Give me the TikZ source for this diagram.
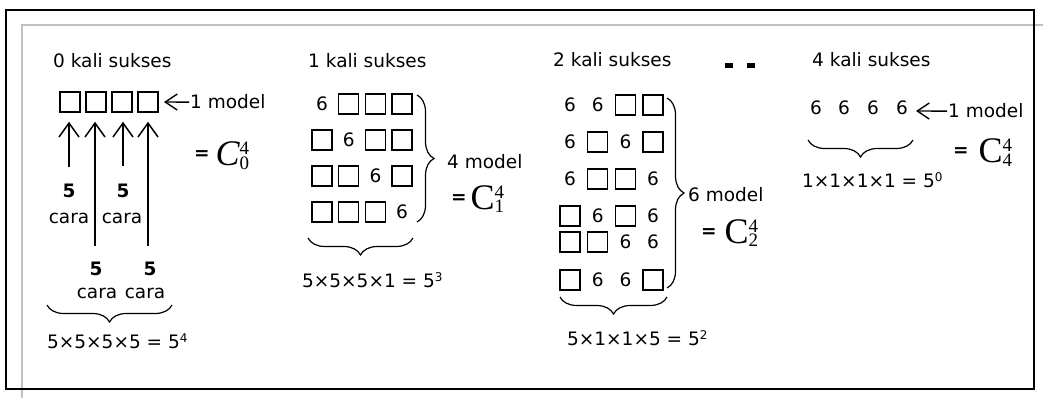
\documentclass[tikz,border=0pt]{standalone}
\usepackage{fontspec}
\setmainfont{DejaVu Sans}
\newfontfamily\tms{Liberation Serif}
\usetikzlibrary{arrows.meta,decorations.pathreplacing}

\definecolor{framegray}{RGB}{192,192,192}

% C^n_k written as a Times capital with stacked indices
\newcommand\combC[3]{{\tms\fontsize{36}{36}\selectfont #1C\upshape\fontsize{19}{19}\selectfont\rlap{\raisebox{11pt}{#3}}\raisebox{-3.5pt}{#2}}}
\newcommand\eqsign{{\bfseries\fontsize{18.5}{18.5}\selectfont\raisebox{6pt}{=}}}
\newcommand\supdig[1]{\raisebox{6pt}{\fontsize{12}{12}\selectfont #1}}

\tikzset{
  lbl/.style={inner sep=0pt, font=\fontsize{18.5}{20}\selectfont},
  box/.style={draw, line width=1.5pt, minimum size=20pt, inner sep=0pt, node contents={}},
  six/.style={lbl, node contents={6}},
  uparr/.style={line width=1.5pt, -{Straight Barb[length=14pt,width=20pt]}},
  larr/.style={line width=1.4pt, -{Straight Barb[length=12pt,width=16pt]}},
  curly/.style={decorate, decoration={brace, amplitude=17pt, aspect=0.5}, line width=1.2pt},
  framebar/.style={line width=2pt, draw=framegray},
}

\begin{document}
\begin{tikzpicture}[x=1pt,y=-1pt]
\useasboundingbox (0,0) rectangle (1043,398);

% frame
\draw[framebar] (22,398) -- (22,25) -- (1043,25);
\draw[line width=2pt] (6,10) rectangle (1034,389);

% ---------- 0 successes ----------
\node[lbl, anchor=base west] (t0) at (53,68) {0 kali sukses};
\foreach \c in {0,...,3} \node (z-\c) at ({70+26*\c},102) [box];
\node[lbl, anchor=base west] (m0) at (190,109) {1 model};
\coordinate (m0tip) at (164,102);
\draw[larr] ([xshift=-1pt]m0.west) -- (m0tip);

\coordinate (u0) at (69,167);
\coordinate (u1) at (95,246);
\coordinate (u2) at (123,166);
\coordinate (u3) at (148,246);
\foreach \c in {0,...,3} \draw[uparr, shorten >=9pt] (u\c) -- (u\c |- z-\c.south);

\node[lbl, anchor=base] (n0) at (69,197) {\textbf{5}};
\node[lbl, anchor=base] (k0) at (69,223) {cara};
\node[lbl, anchor=base] (n2) at (123,197) {\textbf{5}};
\node[lbl, anchor=base] (k2) at (122,223) {cara};
\node[lbl, anchor=base] (n1) at (96,275) {\textbf{5}};
\node[lbl, anchor=base] (k1) at (97,298) {cara};
\node[lbl, anchor=base] (n3) at (150,275) {\textbf{5}};
\node[lbl, anchor=base] (k3) at (145,298) {cara};

\coordinate (b0a) at (172,305);
\coordinate (b0b) at (47,305);
\draw[curly] (b0a) -- (b0b);
\node[lbl, anchor=base west] (f0) at (47,348) {5×5×5×5 = 5\supdig{4}};
\node[lbl, anchor=base west] (e0) at (194,166) {\eqsign\hspace{6pt}\combC{\itshape}{0}{4}};

% ---------- 1 success ----------
\node[lbl, anchor=base west] (t1) at (308,68) {1 kali sukses};
\foreach \kind [count=\i from 0] in {six,box,box,box, box,six,box,box, box,box,six,box, box,box,box,six}{
  \pgfmathtruncatemacro\r{floor(\i/4)}
  \pgfmathtruncatemacro\c{mod(\i,4)}
  \node (pa-\r-\c) at ({322+26.7*\c},{104+36*\r}) [\kind];
}
\coordinate (r1a) at (417,95);
\coordinate (r1b) at (417,222);
\draw[curly] (r1a) -- (r1b);
\node[lbl, anchor=base west] (m1) at (447,169) {4 model};
\node[lbl, anchor=base west] (e1) at (451,209) {\eqsign\hspace{4pt}\combC{}{1}{4}};
\coordinate (b1a) at (413,238);
\coordinate (b1b) at (308,238);
\draw[curly] (b1a) -- (b1b);
\node[lbl, anchor=base west] (f1) at (302,287) {5×5×5×1 = 5\supdig{3}};

% ---------- 2 successes ----------
\node[lbl, anchor=base west] (t2) at (553,67) {2 kali sukses};
\node[fill, minimum width=8pt, minimum height=5pt, inner sep=0pt] (d1) at (729,65.5) {};
\node[fill, minimum width=8pt, minimum height=5pt, inner sep=0pt] (d2) at (751,65.5) {};
\foreach \kind [count=\i from 0] in {six,six,box,box, six,box,six,box, six,box,box,six,
                                     box,six,box,six, box,box,six,six, box,six,six,box}{
  \pgfmathtruncatemacro\r{floor(\i/4)}
  \pgfmathtruncatemacro\c{mod(\i,4)}
  \pgfmathsetmacro\yy{{105,142,179,216,242,280}[\r]}
  \node (pb-\r-\c) at ({570+27.7*\c},\yy) [\kind];
}
\coordinate (r2a) at (667,98);
\coordinate (r2b) at (667,288);
\draw[curly] (r2a) -- (r2b);
\node[lbl, anchor=base west] (m2) at (688,201) {6 model};
\node[lbl, anchor=base west] (e2) at (701,243) {\eqsign\hspace{8pt}\combC{}{2}{4}};
\coordinate (b2a) at (667,297);
\coordinate (b2b) at (560,297);
\draw[curly] (b2a) -- (b2b);
\node[lbl, anchor=base west] (f2) at (567,345) {5×1×1×5 = 5\supdig{2}};

% ---------- 4 successes ----------
\node[lbl, anchor=base west] (t4) at (812,67) {4 kali sukses};
\foreach \xx [count=\c from 0] in {816,844,873,902} \node (q-\c) at (\xx,108) [six];
\node[lbl, anchor=base west] (m4) at (948,118) {1 model};
\coordinate (m4tip) at (916,111);
\draw[larr] ([xshift=-1pt]m4.west) -- (m4tip);
\coordinate (b4a) at (913,140);
\coordinate (b4b) at (808,140);
\draw[curly] (b4a) -- (b4b);
\node[lbl, anchor=base west] (f4) at (802,188) {1×1×1×1 = 5\supdig{0}};
\node[lbl, anchor=base west] (e4) at (953,163) {\eqsign\hspace{10pt}\combC{}{4}{4}};
\end{tikzpicture}
\end{document}
